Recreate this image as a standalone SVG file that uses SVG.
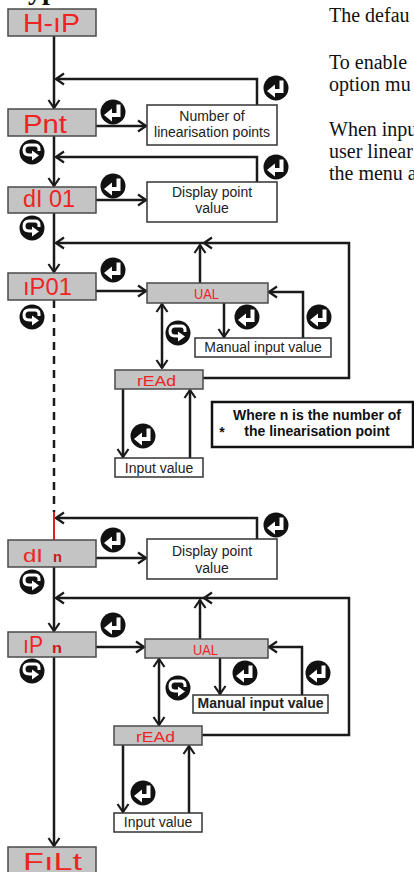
<svg xmlns="http://www.w3.org/2000/svg" xmlns:xlink="http://www.w3.org/1999/xlink" width="414" height="872" viewBox="0 0 414 872">
<style>
.ln{stroke:#1a1a1a;stroke-width:2.5;fill:none}
.ar{marker-end:url(#ah)}
.ar2{marker-start:url(#ah);marker-end:url(#ah)}
.disp{fill:#c4c4c4;stroke:#4a4a4a;stroke-width:1.5}
.box{fill:#fff;stroke:#333;stroke-width:1.5}
.seg{font-family:"Liberation Sans",Arial,sans-serif;fill:#ee2424}
.segb{font-family:"Liberation Sans",Arial,sans-serif;fill:#c81818;font-weight:bold}
.lbl{font-family:"Liberation Sans",Arial,sans-serif;font-size:14px;fill:#222;text-anchor:middle}
.note{font-family:"Liberation Sans",Arial,sans-serif;font-size:14px;font-weight:bold;fill:#111;text-anchor:middle}
.rt{font-family:"Liberation Serif","Times New Roman",serif;font-size:20px;fill:#111}
</style>
<defs>
<marker id="ah" viewBox="0 0 10 14" refX="9" refY="7" markerWidth="10" markerHeight="14" markerUnits="userSpaceOnUse" orient="auto-start-reverse"><path d="M1,1.5 L9,7 L1,12.5" fill="none" stroke="#1a1a1a" stroke-width="2.2"/></marker>
<g id="ent"><circle r="12.5" fill="#111"/><path d="M5.5,-7.5 V3 H-2" fill="none" stroke="#fff" stroke-width="4"/><path d="M-9,3 L-1,-3.5 L-1,9.5 Z" fill="#fff"/></g>
<g id="rot"><circle r="12.5" fill="#111"/><path d="M7,-1 V-3 Q7,-7 3,-7 H-3 Q-8,-7 -8,-2 Q-8,3 -3,3 H1" fill="none" stroke="#fff" stroke-width="3"/><path d="M0,-1.5 L7,3.5 L0,8.5 Z" fill="#fff"/></g>
</defs>
<rect width="414" height="872" fill="#fff"/>
<text x="28" y="-1" style="font-family:'Liberation Serif',serif;font-size:28px;font-weight:bold" fill="#111">yp</text>
<g id="side-text" class="rt">
<text x="329" y="22">The defau</text>
<text x="329" y="69">To enable</text>
<text x="329" y="91">option mu</text>
<text x="329" y="136">When inpu</text>
<text x="329" y="158">user linear</text>
<text x="329" y="180">the menu a</text>
</g>
<g id="connectors">
<path class="ln ar" d="M54,36 V108"/>
<path class="ln ar" d="M54,136 V186"/>
<path class="ln ar" d="M54,213 V272"/>
<path class="ln" d="M54,300 V512" stroke-dasharray="8,6"/>
<path d="M54,512 V540" stroke="#e02020" stroke-width="2" fill="none"/>
<path class="ln ar" d="M54,567 V631"/>
<path class="ln ar" d="M54,657 V846"/>
<path class="ln ar" d="M257,105 V79 H56"/>
<path class="ln ar" d="M257,182 V157 H56"/>
<path class="ln ar" d="M203,378 H349 V243 H204"/>
<path class="ln ar" d="M204,243 H56"/>
<path class="ln ar" d="M200,283 V245"/>
<path class="ln ar" d="M257,539 V518 H56"/>
<path class="ln ar" d="M202,735 H349 V598 H204"/>
<path class="ln ar" d="M204,598 H56"/>
<path class="ln ar" d="M200,639 V600"/>
<path class="ln ar" d="M96,126 H146"/>
<path class="ln ar" d="M96,200 H146"/>
<path class="ln ar" d="M96,291 H146"/>
<path class="ln ar" d="M96,558 H146"/>
<path class="ln ar" d="M96,647 H144"/>
<path class="ln ar2" d="M162,304 V368"/>
<path class="ln ar" d="M224,303 V337"/>
<path class="ln ar" d="M303,338 V292 H269"/>
<path class="ln ar" d="M123,389 V457"/>
<path class="ln ar" d="M190,458 V390"/>
<path class="ln ar2" d="M159,659 V725"/>
<path class="ln ar" d="M220,658 V694"/>
<path class="ln ar" d="M302,695 V647 H269"/>
<path class="ln ar" d="M123,745 V812"/>
<path class="ln ar" d="M189,813 V746"/>
</g>
<g id="icons">
<use xlink:href="#ent" x="276" y="88"/>
<use xlink:href="#ent" x="113" y="112"/>
<use xlink:href="#ent" x="276" y="167"/>
<use xlink:href="#ent" x="113" y="186"/>
<use xlink:href="#ent" x="113" y="270"/>
<use xlink:href="#ent" x="247" y="317"/>
<use xlink:href="#ent" x="319" y="317"/>
<use xlink:href="#ent" x="143" y="436"/>
<use xlink:href="#ent" x="276" y="525"/>
<use xlink:href="#ent" x="113" y="540"/>
<use xlink:href="#ent" x="113" y="625"/>
<use xlink:href="#ent" x="245" y="673"/>
<use xlink:href="#ent" x="318" y="673"/>
<use xlink:href="#ent" x="143" y="793"/>
<use xlink:href="#rot" x="32" y="152"/>
<use xlink:href="#rot" x="32" y="228"/>
<use xlink:href="#rot" x="32" y="317"/>
<use xlink:href="#rot" x="178" y="333"/>
<use xlink:href="#rot" x="32" y="582"/>
<use xlink:href="#rot" x="32" y="671"/>
<use xlink:href="#rot" x="178" y="688"/>
</g>
<g id="n-hip"><rect class="disp" x="8" y="9" width="88" height="27"/><text class="seg" x="23" y="32" font-size="25" textLength="57" lengthAdjust="spacingAndGlyphs">H-ıP</text></g>
<g id="n-pnt"><rect class="disp" x="8" y="109" width="88" height="27"/><text class="seg" x="23" y="133" font-size="25" textLength="44" lengthAdjust="spacingAndGlyphs">Pnt</text></g>
<g id="n-numpts"><rect class="box" x="147" y="105" width="130" height="40"/><text class="lbl" x="212" y="121">Number of</text><text class="lbl" x="212" y="137">linearisation points</text></g>
<g id="n-di01"><rect class="disp" x="8" y="187" width="88" height="26"/><text class="seg" x="23" y="207" font-size="23" textLength="52" lengthAdjust="spacingAndGlyphs">dI 01</text></g>
<g id="n-disp1"><rect class="box" x="147" y="182" width="130" height="40"/><text class="lbl" x="212" y="197">Display point</text><text class="lbl" x="212" y="213">value</text></g>
<g id="n-ip01"><rect class="disp" x="8" y="273" width="88" height="27"/><text class="seg" x="23" y="295" font-size="24" textLength="49" lengthAdjust="spacingAndGlyphs">ıP01</text></g>
<g id="n-ual1"><rect class="disp" x="147" y="283" width="121" height="20"/><text class="seg" x="194" y="299" font-size="15" textLength="25" lengthAdjust="spacingAndGlyphs">UAL</text></g>
<g id="n-man1"><rect class="box" x="195" y="338" width="136" height="19"/><text class="lbl" x="263" y="352">Manual input value</text></g>
<g id="n-read1"><rect class="disp" x="115" y="370" width="88" height="19"/><text class="seg" x="137" y="386" font-size="15" textLength="39" lengthAdjust="spacingAndGlyphs">rEAd</text></g>
<g id="n-inp1"><rect class="box" x="115" y="458" width="88" height="19"/><text class="lbl" x="159" y="473">Input value</text></g>
<g id="n-note"><rect x="212" y="402" width="201" height="45" fill="#fff" stroke="#111" stroke-width="2.5"/><text class="note" x="317" y="420">Where n is the number of</text><text class="note" x="317" y="436">the linearisation point</text><text class="note" x="222" y="437" font-size="12">*</text></g>
<g id="n-din"><rect class="disp" x="8" y="540" width="88" height="27"/><text class="seg" x="23" y="562" font-size="19" textLength="20" lengthAdjust="spacingAndGlyphs">dI</text><text class="segb" x="53" y="562" font-size="14" textLength="9" lengthAdjust="spacingAndGlyphs">n</text></g>
<g id="n-disp2"><rect class="box" x="147" y="539" width="130" height="40"/><text class="lbl" x="212" y="556">Display point</text><text class="lbl" x="212" y="573">value</text></g>
<g id="n-ipn"><rect class="disp" x="8" y="632" width="88" height="25"/><text class="seg" x="23" y="653" font-size="24" textLength="20" lengthAdjust="spacingAndGlyphs">ıP</text><text class="segb" x="52" y="653" font-size="14" textLength="10" lengthAdjust="spacingAndGlyphs">n</text></g>
<g id="n-ual2"><rect class="disp" x="145" y="639" width="123" height="19"/><text class="seg" x="193" y="655" font-size="15" textLength="25" lengthAdjust="spacingAndGlyphs">UAL</text></g>
<g id="n-man2"><rect class="box" x="193" y="695" width="135" height="18"/><text class="lbl" x="260.5" y="708" font-weight="bold">Manual input value</text></g>
<g id="n-read2"><rect class="disp" x="114" y="726" width="88" height="19"/><text class="seg" x="136" y="742" font-size="15" textLength="39" lengthAdjust="spacingAndGlyphs">rEAd</text></g>
<g id="n-inp2"><rect class="box" x="114" y="813" width="88" height="19"/><text class="lbl" x="158" y="827">Input value</text></g>
<g id="n-filt"><rect class="disp" x="8" y="847" width="88" height="30"/><text class="seg" x="23" y="870" font-size="24" textLength="59" lengthAdjust="spacingAndGlyphs">FıLt</text></g>
</svg>
